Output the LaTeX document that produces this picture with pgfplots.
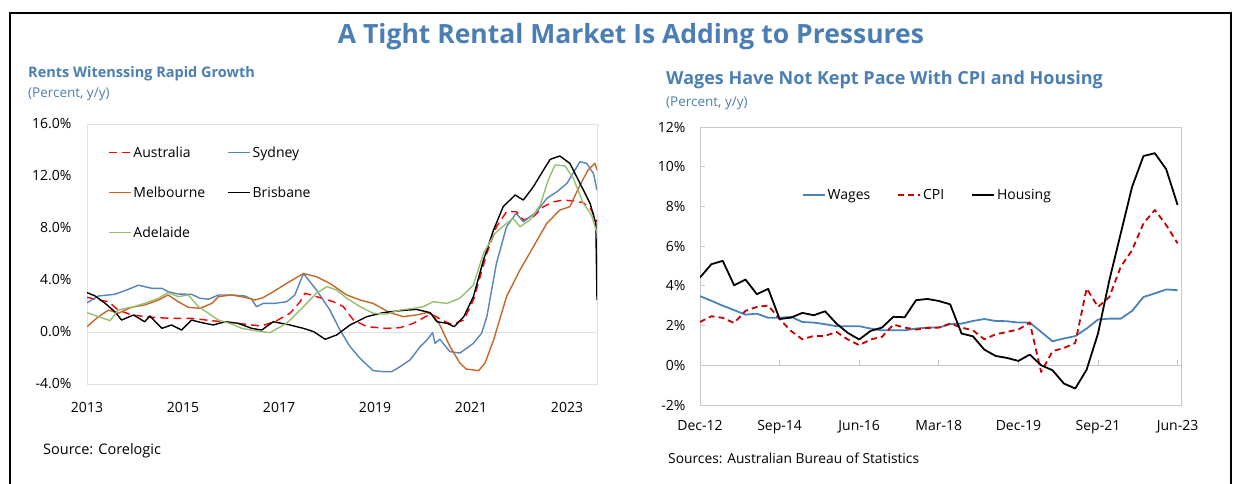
\documentclass[border=0pt]{standalone}
\usepackage{fontspec}
\setmainfont{Open Sans}
\usepackage{pgfplots}
\pgfplotsset{compat=1.18}
\definecolor{titleblue}{RGB}{74,126,180}
\definecolor{sydney}{RGB}{84,132,186}
\definecolor{melb}{RGB}{200,102,40}
\definecolor{adel}{RGB}{150,190,112}
\definecolor{wages}{RGB}{74,130,186}
\definecolor{cpi}{RGB}{196,0,0}
\definecolor{axisgray}{RGB}{200,200,200}
\definecolor{zerogray}{RGB}{225,225,225}
\begin{document}
\begin{tikzpicture}
\path[use as bounding box] (0pt,0pt) rectangle (1236pt,483pt);
\draw[black, line width=2pt] (10pt,-2pt) -- (10pt,470pt) -- (1231pt,470pt) -- (1231pt,-2pt);
\node[anchor=base, font=\fontsize{26.5}{30}\selectfont\bfseries, text=titleblue, inner sep=0pt] at (631pt,439pt) {A Tight Rental Market Is Adding to Pressures};
\node[anchor=base west, font=\fontsize{14.5}{17}\selectfont\bfseries, text=titleblue, inner sep=0pt] at (28pt,405pt) {Rents Witenssing Rapid Growth};
\node[anchor=base west, font=\fontsize{13.5}{16}\selectfont, text=titleblue, inner sep=0pt] at (28pt,385pt) {(Percent, y/y)};
\node[anchor=base west, font=\fontsize{18}{21}\selectfont\bfseries, text=titleblue, inner sep=0pt] at (666pt,398pt) {Wages Have Not Kept Pace With CPI and Housing};
\node[anchor=base west, font=\fontsize{13.5}{16}\selectfont, text=titleblue, inner sep=0pt] at (666pt,376pt) {(Percent, y/y)};
\node[anchor=base west, font=\fontsize{14.5}{17}\selectfont, inner sep=0pt] at (43pt,29pt) {Source: Corelogic};
\node[anchor=base west, font=\fontsize{13.8}{16}\selectfont, inner sep=0pt] at (668pt,20pt) {Sources: Australian Bureau of Statistics};

\begin{axis}[
  at={(87pt,99pt)}, anchor=south west, scale only axis,
  width=510pt, height=260pt,
  xmin=2013, xmax=2023.625, ymin=-4, ymax=16,
  xtick={2013,2015,2017,2019,2021,2023},
  xticklabels={2013,2015,2017,2019,2021,2023},
  ytick={-4,0,4,8,12,16},
  yticklabels={-4.0\%,0.0\%,4.0\%,8.0\%,12.0\%,16.0\%},
  extra y ticks={0}, extra y tick labels={},
  extra y tick style={grid=major, major grid style={zerogray, line width=1pt}},
  major tick length=0pt,
  axis line style={draw=zerogray, line width=1pt},
  tick label style={font=\fontsize{14}{17}\selectfont},
  yticklabel style={xshift=-12pt},
  xticklabel style={yshift=-15pt},
  legend columns=2,
  legend cell align=left,
  legend style={draw=none, fill=none, at={(0.035,0.93)}, anchor=north west,
    font=\fontsize{14}{17}\selectfont, row sep=24pt,
    /tikz/every even column/.append style={column sep=20pt}},
  legend image code/.code={\draw[#1] (0pt,0pt) -- (22pt,0pt);},
  every axis plot/.append style={line width=1.4pt, line join=round},
]
\addplot[red, dash pattern=on 8pt off 5pt] coordinates {
(2013.0,2.67)(2013.24,2.46)(2013.45,2.33)(2013.65,1.69)(2013.93,1.31)(2014.35,1.13)(2014.76,1.05)(2015.18,1.05)(2015.6,0.87)(2016.01,0.72)(2016.43,0.54)(2016.64,0.46)(2016.95,0.87)(2017.23,1.44)(2017.44,2.33)(2017.54,2.98)(2017.78,2.72)(2018.13,2.33)(2018.34,1.95)(2018.55,0.92)(2018.83,0.41)(2019.24,0.28)(2019.52,0.33)(2019.8,0.67)(2020.08,1.23)(2020.21,1.31)(2020.39,0.92)(2020.6,0.58)(2020.85,0.92)(2021.05,2.46)(2021.33,6.05)(2021.53,8.1)(2021.74,9.25)(2021.95,9.25)(2022.09,8.62)(2022.3,8.87)(2022.51,9.64)(2022.72,10.02)(2022.93,10.15)(2023.13,10.08)(2023.34,9.95)(2023.51,9.38)(2023.625,8.48)};
\addlegendentry{Australia}
\addplot[sydney] coordinates {
(2013.0,2.25)(2013.24,2.77)(2013.58,2.9)(2013.86,3.28)(2014.07,3.6)(2014.35,3.36)(2014.56,3.36)(2014.69,3.1)(2014.9,2.92)(2015.18,2.9)(2015.35,2.6)(2015.53,2.52)(2015.74,2.85)(2016.01,2.85)(2016.29,2.77)(2016.43,2.52)(2016.53,1.95)(2016.67,2.2)(2016.9,2.2)(2017.16,2.33)(2017.33,2.85)(2017.51,4.5)(2017.78,3.23)(2018.06,1.69)(2018.27,0.15)(2018.48,-1.13)(2018.69,-2.03)(2018.96,-2.97)(2019.17,-3.05)(2019.35,-3.05)(2019.52,-2.67)(2019.73,-2.15)(2019.94,-1.13)(2020.08,-0.62)(2020.2,-0.05)(2020.25,-0.87)(2020.35,-0.56)(2020.56,-1.51)(2020.77,-1.62)(2021.05,-0.87)(2021.22,-0.1)(2021.33,1.18)(2021.53,5.28)(2021.74,8.1)(2021.94,9.13)(2022.09,8.48)(2022.37,9.25)(2022.58,10.28)(2022.79,10.79)(2023.0,11.44)(2023.27,13.1)(2023.41,12.97)(2023.55,12.2)(2023.625,10.92)};
\addlegendentry{Sydney}
\addplot[melb] coordinates {
(2013.0,0.41)(2013.24,1.18)(2013.45,1.69)(2013.65,1.44)(2013.93,1.9)(2014.2,2.08)(2014.49,2.46)(2014.69,2.85)(2014.9,2.33)(2015.11,1.9)(2015.35,1.82)(2015.6,2.2)(2015.74,2.72)(2016.01,2.85)(2016.29,2.67)(2016.5,2.46)(2016.67,2.65)(2016.88,3.1)(2017.16,3.74)(2017.51,4.5)(2017.78,4.25)(2018.06,3.74)(2018.41,2.85)(2018.69,2.46)(2018.96,2.2)(2019.31,1.49)(2019.59,1.18)(2019.86,1.31)(2020.08,1.49)(2020.21,1.31)(2020.35,0.54)(2020.56,-1.1)(2020.77,-2.4)(2020.9,-2.85)(2021.16,-2.97)(2021.29,-2.41)(2021.47,-0.62)(2021.74,2.72)(2022.02,4.77)(2022.3,6.56)(2022.58,8.36)(2022.85,9.38)(2023.06,9.64)(2023.27,11.3)(2023.44,12.46)(2023.58,12.97)(2023.625,12.46)};
\addlegendentry{Melbourne}
\addplot[black] coordinates {
(2013.0,3.03)(2013.17,2.77)(2013.38,2.2)(2013.58,1.56)(2013.72,0.92)(2013.97,1.31)(2014.2,0.79)(2014.31,1.23)(2014.56,0.28)(2014.76,0.54)(2014.97,0.15)(2015.18,0.92)(2015.39,0.72)(2015.63,0.54)(2015.88,0.79)(2016.15,0.67)(2016.43,0.28)(2016.64,0.15)(2016.88,0.79)(2017.23,0.54)(2017.51,0.28)(2017.72,0.03)(2017.96,-0.56)(2018.2,-0.23)(2018.48,0.54)(2018.83,1.18)(2019.17,1.49)(2019.52,1.64)(2019.86,1.74)(2020.15,1.49)(2020.29,0.79)(2020.5,0.67)(2020.65,0.41)(2020.85,1.18)(2021.05,2.72)(2021.26,5.54)(2021.47,7.85)(2021.67,9.64)(2021.92,10.54)(2022.09,10.15)(2022.3,11.18)(2022.51,12.46)(2022.65,13.28)(2022.85,13.54)(2023.06,12.97)(2023.27,11.44)(2023.48,9.9)(2023.6,8.36)(2023.625,2.46)};
\addlegendentry{Brisbane}
\addplot[adel] coordinates {
(2013.0,1.49)(2013.24,1.18)(2013.48,0.87)(2013.65,1.69)(2013.97,1.95)(2014.2,2.2)(2014.49,2.6)(2014.69,3.03)(2014.9,2.72)(2015.11,2.85)(2015.32,1.95)(2015.53,1.44)(2015.74,0.92)(2016.01,0.62)(2016.22,0.28)(2016.43,0.15)(2016.64,0.03)(2016.81,-0.05)(2017.16,0.67)(2017.51,1.95)(2017.78,2.98)(2018.0,3.49)(2018.2,3.23)(2018.41,2.6)(2018.69,1.95)(2018.96,1.44)(2019.24,1.38)(2019.52,1.69)(2019.8,1.82)(2020.01,1.95)(2020.21,2.33)(2020.5,2.2)(2020.77,2.6)(2021.05,3.62)(2021.26,6.05)(2021.5,7.59)(2021.74,8.36)(2021.88,8.74)(2022.02,8.1)(2022.23,8.62)(2022.44,9.77)(2022.61,11.69)(2022.75,12.85)(2022.96,12.77)(2023.13,11.82)(2023.34,9.9)(2023.51,9.0)(2023.625,7.59)};
\addlegendentry{Adelaide}
\end{axis}

\begin{axis}[
  at={(700pt,78pt)}, anchor=south west, scale only axis,
  width=481pt, height=278pt,
  xmin=0, xmax=42.3, ymin=-2, ymax=12,
  xtick={0,7,14,21,28,35,42},
  xticklabels={Dec-12,Sep-14,Jun-16,Mar-18,Dec-19,Sep-21,Jun-23},
  ytick={-2,0,2,4,6,8,10,12},
  yticklabels={-2\%,0\%,2\%,4\%,6\%,8\%,10\%,12\%},
  tick pos=left,
  xtick style={draw=none},
  ytick style={axisgray, line width=1pt},
  major tick length=5pt,
  extra y ticks={0}, extra y tick labels={},
  extra y tick style={grid=major, major grid style={axisgray, line width=1pt}},
  axis line style={draw=axisgray, line width=1pt},
  tick label style={font=\fontsize{14}{17}\selectfont},
  yticklabel style={xshift=-11pt},
  xticklabel style={yshift=-12pt},
  legend columns=3,
  legend cell align=left,
  legend style={draw=none, fill=none, at={(0.205,0.755)}, anchor=west,
    font=\fontsize{14}{17}\selectfont,
    /tikz/every even column/.append style={column sep=25pt}},
  legend image code/.code={\draw[#1] (0pt,0pt) -- (22pt,0pt);},
  every axis plot/.append style={line width=1.8pt, line join=round},
]
\pgfplotsinvokeforeach{7,14,21,28,35,42}{\draw[axisgray, line width=1pt] (axis cs:#1,0) -- ([yshift=5pt]axis cs:#1,0);}
\addplot[wages] coordinates {
(0,3.48)(1,3.25)(2,3.0)(3,2.78)(4,2.55)(5,2.6)(6,2.39)(7,2.39)(8,2.44)(9,2.18)(10,2.15)(11,2.07)(12,1.97)(13,1.97)(14,1.97)(15,1.85)(16,1.76)(17,1.76)(18,1.76)(19,1.85)(20,1.9)(21,1.9)(22,2.07)(23,2.1)(24,2.23)(25,2.33)(26,2.23)(27,2.22)(28,2.15)(29,2.15)(30,1.68)(31,1.21)(32,1.35)(33,1.47)(34,1.85)(35,2.3)(36,2.35)(37,2.35)(38,2.74)(39,3.44)(40,3.62)(41,3.82)(42,3.78)};
\addlegendentry{Wages}
\addplot[cpi, dash pattern=on 6pt off 4pt] coordinates {
(0,2.18)(1,2.47)(2,2.39)(3,2.13)(4,2.74)(5,2.94)(6,3.01)(7,2.33)(8,1.73)(9,1.31)(10,1.48)(11,1.48)(12,1.68)(13,1.30)(14,1.01)(15,1.30)(16,1.43)(17,2.05)(18,1.9)(19,1.8)(20,1.88)(21,1.9)(22,2.1)(23,1.9)(24,1.76)(25,1.31)(26,1.56)(27,1.68)(28,1.8)(29,2.15)(30,-0.34)(31,0.71)(32,0.87)(33,1.12)(34,3.87)(35,2.94)(36,3.44)(37,4.96)(38,5.8)(39,7.15)(40,7.82)(41,7.06)(42,6.14)};
\addlegendentry{CPI}
\addplot[black] coordinates {
(0,4.42)(1,5.09)(2,5.26)(3,4.03)(4,4.32)(5,3.58)(6,3.85)(7,2.33)(8,2.40)(9,2.64)(10,2.52)(11,2.72)(12,2.10)(13,1.63)(14,1.30)(15,1.73)(16,1.90)(17,2.44)(18,2.42)(19,3.28)(20,3.34)(21,3.24)(22,3.07)(23,1.60)(24,1.46)(25,0.79)(26,0.47)(27,0.37)(28,0.22)(29,0.54)(30,0.0)(31,-0.25)(32,-0.92)(33,-1.17)(34,-0.22)(35,1.60)(36,4.29)(37,6.64)(38,8.99)(39,10.54)(40,10.68)(41,9.87)(42,8.07)};
\addlegendentry{Housing}
\end{axis}
\end{tikzpicture}
\end{document}
